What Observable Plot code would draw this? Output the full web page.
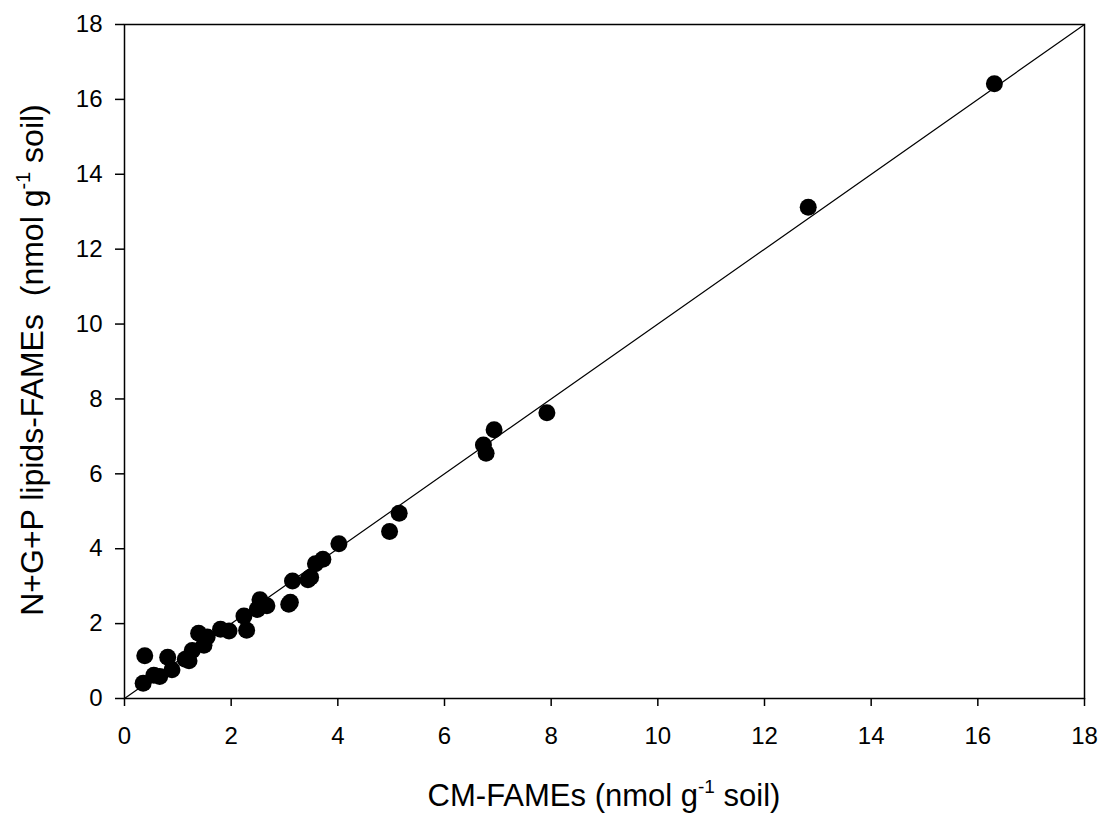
<!DOCTYPE html>
<html>
<head>
<meta charset="utf-8">
<script src="https://cdn.jsdelivr.net/npm/d3@7"></script>
<script src="https://cdn.jsdelivr.net/npm/@observablehq/plot@0.6"></script>
<style>
  html, body { margin: 0; padding: 0; background: #fff; }
  #chart svg { display: block; }
  #chart svg g[aria-label$="tick label"] { font-size: 24px; }
</style>
</head>
<body>
<div id="chart"></div>
<script>
// CM-FAMEs (x) vs N+G+P lipids-FAMEs (y), nmol g-1 soil
const cmFames = [0.35, 0.38, 0.55, 0.66, 0.81, 0.89, 1.14, 1.21, 1.27, 1.39, 1.49, 1.55, 1.80, 1.96, 2.24, 2.29, 2.49, 2.54, 2.67, 3.08, 3.11, 3.15, 3.44, 3.49, 3.58, 3.72, 4.02, 4.97, 5.15, 6.73, 6.78, 6.93, 7.92, 12.82, 16.31];
const ngpFames = [0.41, 1.14, 0.62, 0.59, 1.10, 0.77, 1.05, 1.01, 1.28, 1.74, 1.42, 1.64, 1.85, 1.80, 2.20, 1.82, 2.38, 2.64, 2.48, 2.52, 2.57, 3.14, 3.17, 3.24, 3.60, 3.72, 4.13, 4.46, 4.95, 6.77, 6.55, 7.18, 7.63, 13.12, 16.42];
const xTicks = [0, 2, 4, 6, 8, 10, 12, 14, 16, 18];
const yTicks = [0, 2, 4, 6, 8, 10, 12, 14, 16, 18];
const axisDomain = [0, 18];
const identityLine = [0, 18];

const points = cmFames.map((x, i) => ({x, y: ngpFames[i]}));

const W = 1104, H = 816;
const mL = 124, mR = 20, mT = 24, mB = 118;

const chart = Plot.plot({
  width: W,
  height: H,
  marginLeft: mL,
  marginRight: mR,
  marginTop: mT,
  marginBottom: mB,
  style: {fontFamily: "'Liberation Sans', Arial, sans-serif", fontSize: "24px", color: "#000", background: "#fff", overflow: "visible"},
  x: {domain: axisDomain, label: null},
  y: {domain: axisDomain, label: null},
  marks: [
    Plot.axisX({ticks: xTicks, tickSize: 8, tickPadding: 20, tickFormat: d => String(d), strokeWidth: 1.5, fontSize: 24}),
    Plot.axisY({ticks: yTicks, tickSize: 9, tickPadding: 13, tickFormat: d => String(d), strokeWidth: 1.5, fontSize: 24}),
    Plot.lineY(identityLine, {x: d => d, y: d => d, stroke: "#000", strokeWidth: 1.2}),
    Plot.dot(points, {x: "x", y: "y", r: 8.5, fill: "#000", stroke: "none"}),
    Plot.frame({stroke: "#000", strokeWidth: 1.5})
  ]
});

document.getElementById("chart").appendChild(chart);

const svg = d3.select(chart);
const font = "'Liberation Sans', Arial, sans-serif";

// x-axis title
const xt = svg.append("text")
  .attr("x", mL + (W - mL - mR) / 2)
  .attr("y", 806)
  .attr("text-anchor", "middle")
  .attr("font-family", font)
  .attr("font-size", 31)
  .attr("fill", "#000");
xt.append("tspan").text("CM-FAMEs (nmol g");
xt.append("tspan").attr("font-size", 19).attr("dy", -13).text("-1");
xt.append("tspan").attr("dy", 13).text(" soil)");

// y-axis title
const yt = svg.append("text")
  .attr("transform", `translate(43,360) rotate(-90)`)
  .attr("text-anchor", "middle")
  .attr("font-family", font)
  .attr("font-size", 32)
  .attr("fill", "#000")
  .style("white-space", "pre");
yt.append("tspan").text("N+G+P lipids-FAMEs  (nmol g");
yt.append("tspan").attr("font-size", 20).attr("dy", -13).text("-1");
yt.append("tspan").attr("dy", 13).text(" soil)");
</script>
</body>
</html>
